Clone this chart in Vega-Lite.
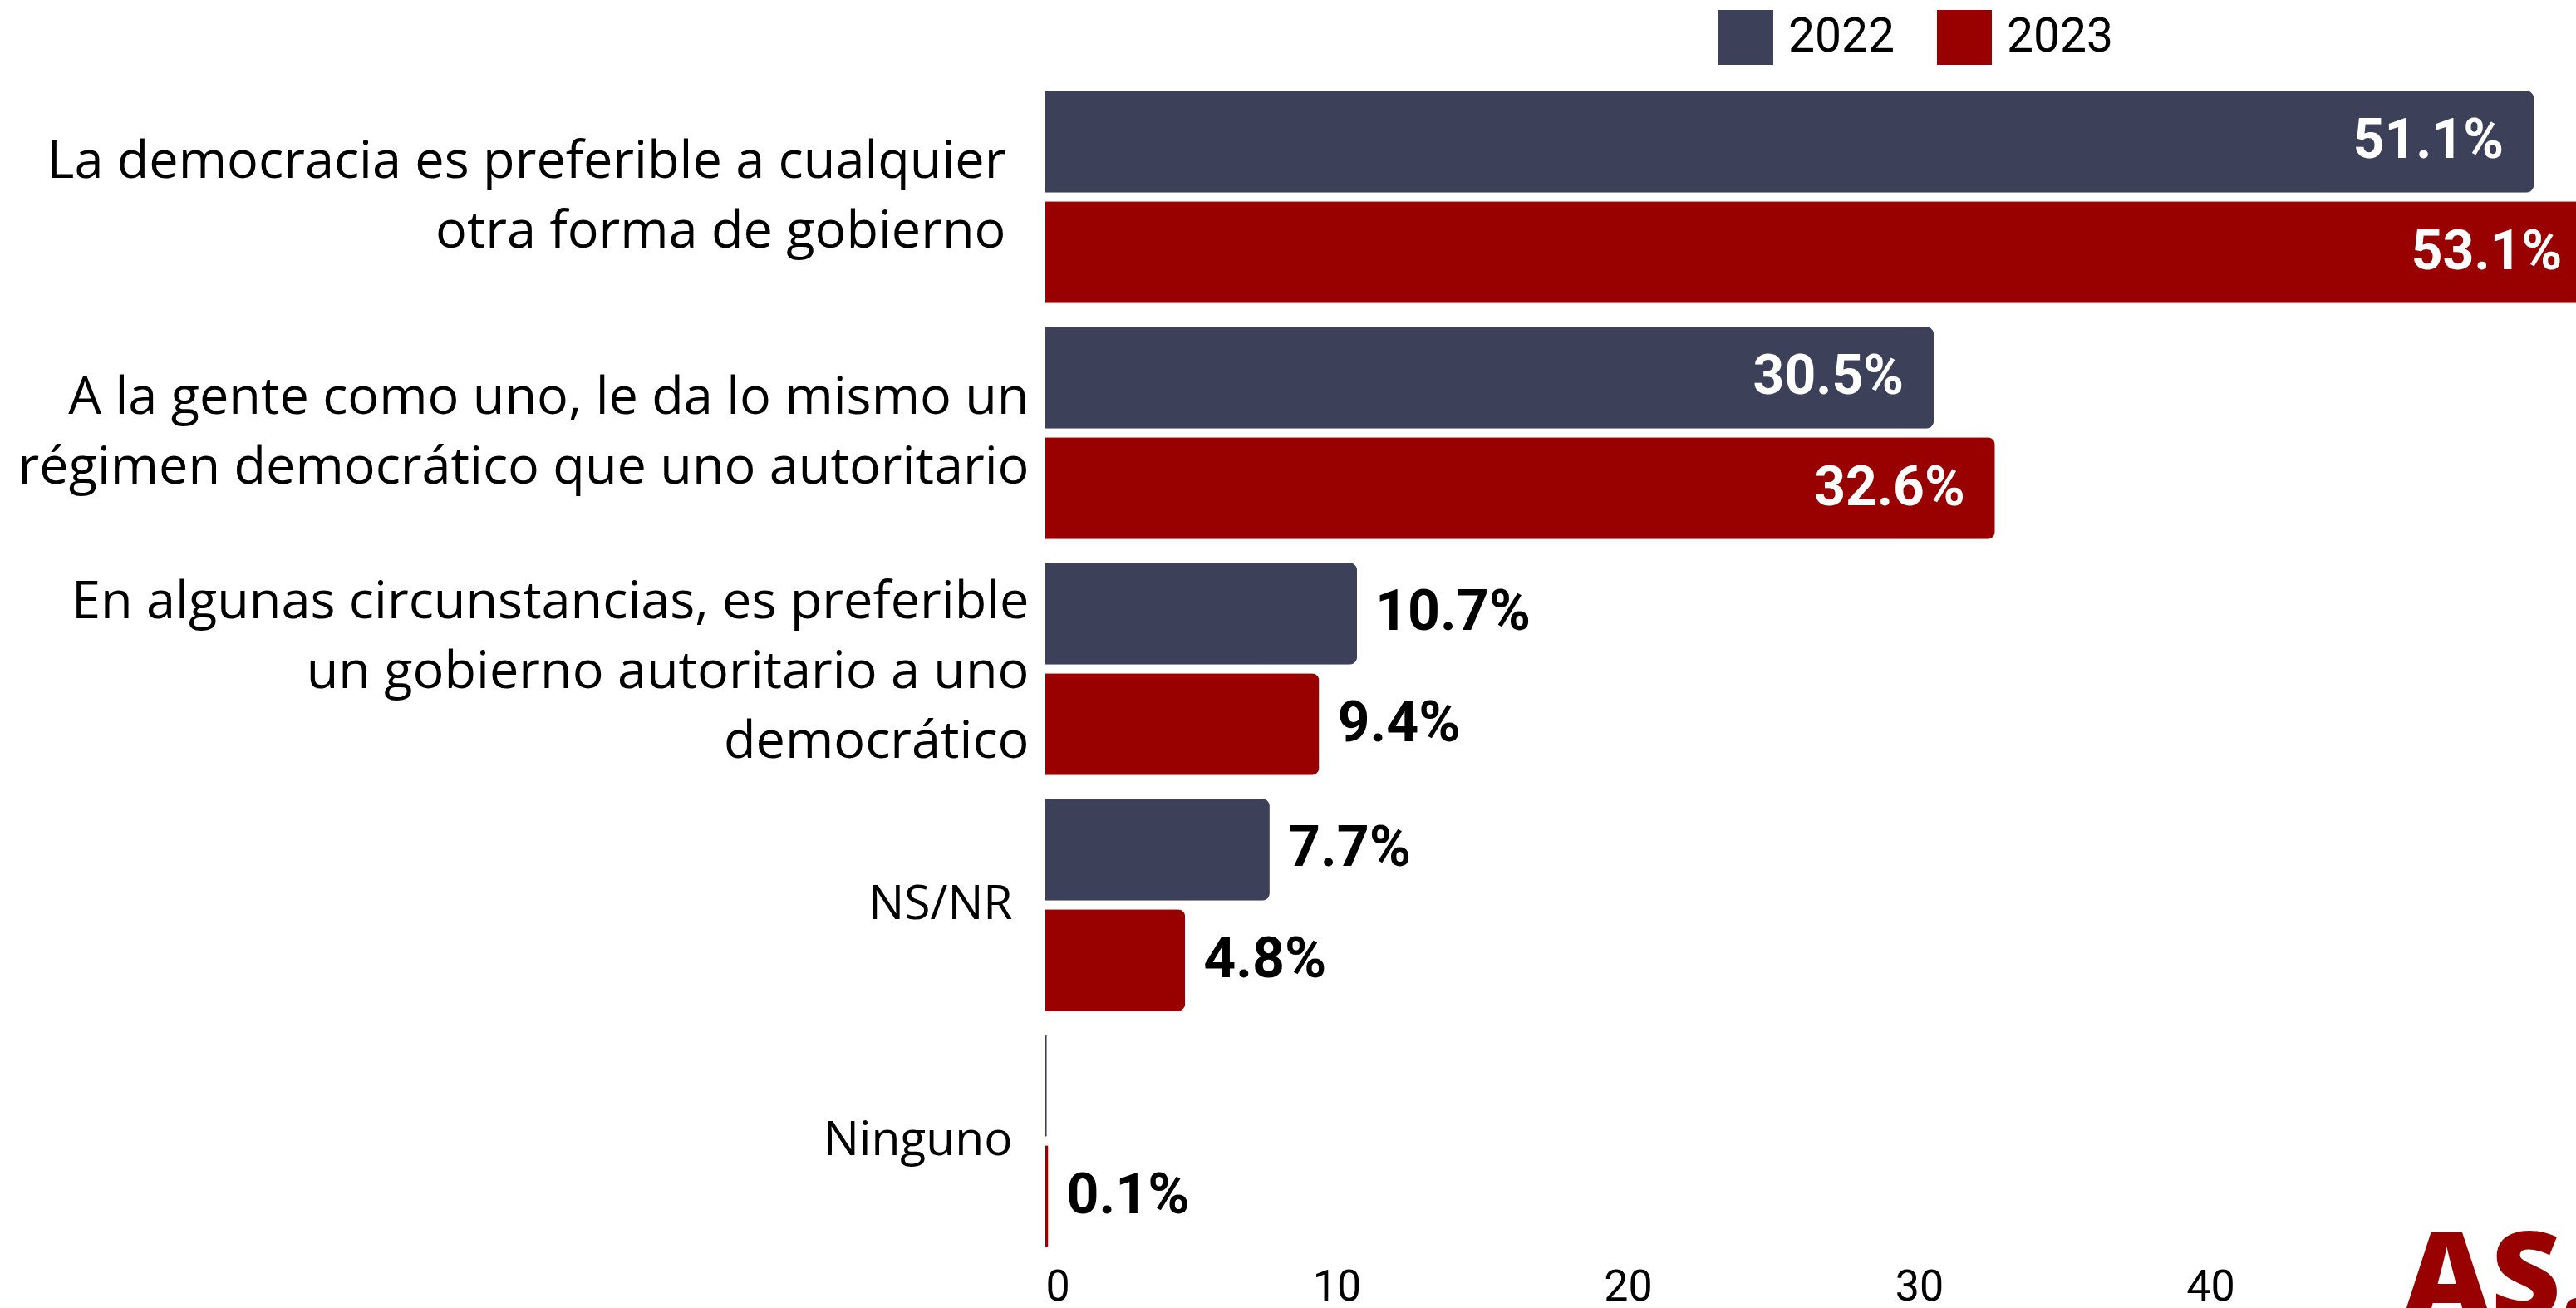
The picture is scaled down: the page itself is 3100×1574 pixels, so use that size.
{
  "$schema": "https://vega.github.io/schema/vega-lite/v6.json",
  "autosize": {"type": "none"},
  "width": 1842,
  "height": 1420,
  "padding": {"left": 1258, "top": 95, "right": 0, "bottom": 59},
  "background": "white",
  "config": {"view": {"stroke": null}, "font": "Open Sans"},
  "title": {"text": "AS.", "orient": "bottom", "anchor": "end", "frame": "group", "color": "#990000", "font": "Open Sans", "fontSize": 146, "fontWeight": 800, "offset": -102, "dx": 24},
  "data": {"values": [
    {"respuesta": "La democracia es preferible a cualquier\notra forma de gobierno", "anio": "2022", "valor": 51.1, "etiqueta": "51.1%"},
    {"respuesta": "La democracia es preferible a cualquier\notra forma de gobierno", "anio": "2023", "valor": 53.1, "etiqueta": "53.1%"},
    {"respuesta": "A la gente como uno, le da lo mismo un\nrégimen democrático que uno autoritario", "anio": "2022", "valor": 30.5, "etiqueta": "30.5%"},
    {"respuesta": "A la gente como uno, le da lo mismo un\nrégimen democrático que uno autoritario", "anio": "2023", "valor": 32.6, "etiqueta": "32.6%"},
    {"respuesta": "En algunas circunstancias, es preferible\nun gobierno autoritario a uno\ndemocrático", "anio": "2022", "valor": 10.7, "etiqueta": "10.7%"},
    {"respuesta": "En algunas circunstancias, es preferible\nun gobierno autoritario a uno\ndemocrático", "anio": "2023", "valor": 9.4, "etiqueta": "9.4%"},
    {"respuesta": "NS/NR", "anio": "2022", "valor": 7.7, "etiqueta": "7.7%"},
    {"respuesta": "NS/NR", "anio": "2023", "valor": 4.8, "etiqueta": "4.8%"},
    {"respuesta": "Ninguno", "anio": "2022", "valor": 0.05, "etiqueta": ""},
    {"respuesta": "Ninguno", "anio": "2023", "valor": 0.1, "etiqueta": "0.1%"}
  ]},
  "encoding": {
    "y": {
      "field": "respuesta", "type": "nominal", "title": null,
      "sort": [
        "La democracia es preferible a cualquier\notra forma de gobierno",
        "A la gente como uno, le da lo mismo un\nrégimen democrático que uno autoritario",
        "En algunas circunstancias, es preferible\nun gobierno autoritario a uno\ndemocrático",
        "NS/NR",
        "Ninguno"
      ],
      "scale": {"paddingInner": 0.1, "paddingOuter": 0.05},
      "axis": {
        "domain": false, "ticks": false, "grid": false,
        "labelExpr": "split(datum.label, '\\n')",
        "labelFontSize": {"condition": {"test": "length(datum.value) < 10", "value": 57}, "value": 63},
        "labelPadding": {"condition": [{"test": "indexof(datum.value, 'cualquier') >= 0", "value": 48}, {"test": "length(datum.value) < 10", "value": 40}], "value": 20},
        "labelOffset": {"condition": [{"test": "length(split(datum.value, '\\n')) == 3", "value": -80}, {"test": "length(split(datum.value, '\\n')) == 2", "value": -42}], "value": 0},
        "labelLineHeight": 84,
        "labelColor": "black",
        "labelLimit": 0,
        "labelAlign": "right",
        "labelBaseline": "middle"
      }
    },
    "yOffset": {"field": "anio", "type": "nominal", "scale": {"paddingInner": 0.08, "paddingOuter": 0}},
    "x": {
      "field": "valor", "type": "quantitative",
      "scale": {"domain": [0, 52.55], "nice": false},
      "axis": {"values": [0, 10, 20, 30, 40], "domain": false, "ticks": false, "grid": false, "title": null, "labelFontSize": 52, "labelFont": "Roboto", "labelColor": "black", "labelPadding": 8}
    }
  },
  "layer": [
    {
      "mark": {"type": "bar", "cornerRadiusEnd": 9},
      "encoding": {
        "color": {
          "field": "anio", "type": "nominal",
          "scale": {"domain": ["2022", "2023"], "range": ["#3D4059", "#990000"]},
          "legend": {
            "title": null, "orient": "none", "direction": "horizontal",
            "legendX": 810, "legendY": -83, "padding": 0,
            "symbolType": "square", "symbolSize": 4356, "symbolStrokeWidth": 0, "symbolOpacity": 1,
            "labelFont": "Roboto", "labelFontSize": 57, "labelColor": "black", "labelOffset": 18, "columnPadding": 50
          }
        }
      }
    },
    {
      "transform": [{"filter": "datum.valor >= 20"}],
      "mark": {"type": "text", "align": "right", "baseline": "middle", "dx": -36, "color": "white", "font": "Roboto", "fontWeight": "bold", "fontSize": 66},
      "encoding": {"text": {"field": "etiqueta"}}
    },
    {
      "transform": [{"filter": "datum.valor < 20"}],
      "mark": {"type": "text", "align": "left", "baseline": "middle", "dx": 22, "color": "black", "font": "Roboto", "fontWeight": "bold", "fontSize": 68},
      "encoding": {"text": {"field": "etiqueta"}}
    }
  ]
}
